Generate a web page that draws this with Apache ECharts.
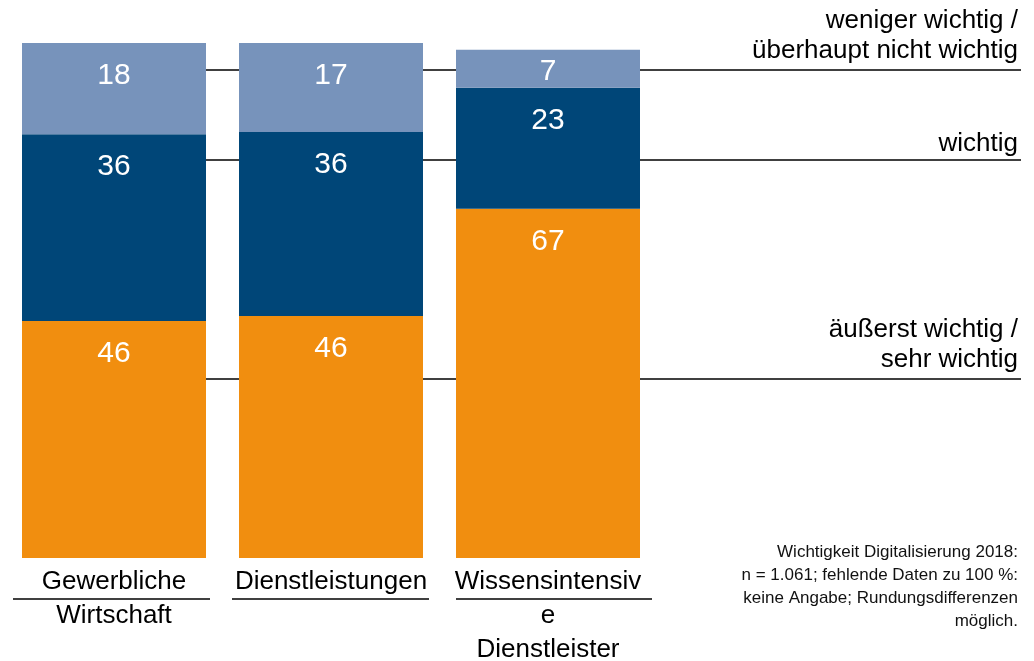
<!DOCTYPE html>
<html>
<head>
<meta charset="utf-8">
<script src="https://cdn.jsdelivr.net/npm/echarts@6/dist/echarts.min.js"></script>
<style>
  html, body { margin: 0; padding: 0; background: #fff; }
  #chart { width: 1034px; height: 661px; }
</style>
</head>
<body>
<div id="chart"></div>
<script>
// categories (line breaks as in the original)
const categories = ['Gewerbliche\nWirtschaft', 'Dienstleistungen', 'Wissensintensiv\ne\nDienstleister'];
const seriesNames = ['äußerst wichtig / sehr wichtig', 'wichtig', 'weniger wichtig / überhaupt nicht wichtig'];

// bar heights in %
const sehrWichtig = [46.0, 47.0, 67.8];
const wichtig = [36.3, 35.7, 23.5];
const wenigerWichtig = [17.7, 17.3, 7.4];

// numbers printed on the bars
const sehrWichtigLabels = [46, 46, 67];
const wichtigLabels = [36, 36, 23];
const wenigerWichtigLabels = [18, 17, 7];

const colors = ['#f18e0f', '#004678', '#7793bb'];
const font = '"Liberation Sans", Arial, sans-serif';

const chart = echarts.init(document.getElementById('chart'));

function makeSeries(name, values, labels, color) {
    return {
        name: name,
        type: 'bar',
        stack: 'total',
        barWidth: 184,
        z: 2,
        itemStyle: { color: color },
        label: {
            show: true,
            position: 'insideTop',
            distance: 18,
            color: '#fff',
            fontSize: 30,
            fontFamily: font,
            formatter: (p) => labels[p.dataIndex]
        },
        // small segments get their number centred
        data: values.map((v) => v < 10
            ? { value: v, label: { position: 'inside', offset: [0, 3] } }
            : v)
    };
}

const lineStyle = { stroke: '#000', lineWidth: 1.5 };
const hline = (x1, x2, y) => ({
    type: 'line', z: 0, silent: true,
    shape: { x1: x1, y1: y, x2: x2, y2: y }, style: lineStyle
});
// right aligned text block, every line ends at x = 1018
const rightText = (text, y, size, lh, fill) => ({
    type: 'text', z: 5, x: 1018, y: y,
    style: { text: text, align: 'right', verticalAlign: 'top', font: size + 'px ' + font, fill: fill, lineHeight: lh }
});

const option = {
    animation: false,
    grid: { left: 5.5, right: 377.5, top: 43, bottom: 103, outerBoundsMode: 'none' },
    xAxis: {
        type: 'category',
        data: categories,
        axisLine: { show: false },
        axisTick: { show: false },
        axisLabel: {
            interval: 0,
            margin: 7,
            color: '#000',
            fontSize: 26,
            lineHeight: 34,
            fontFamily: font
        }
    },
    yAxis: {
        type: 'value',
        min: 0,
        max: 100,
        show: false
    },
    series: [
        makeSeries(seriesNames[0], sehrWichtig, sehrWichtigLabels, colors[0]),
        makeSeries(seriesNames[1], wichtig, wichtigLabels, colors[1]),
        makeSeries(seriesNames[2], wenigerWichtig, wenigerWichtigLabels, colors[2])
    ],
    graphic: [
        // leader lines to the series names
        hline(206, 1021, 70),
        hline(206, 1021, 160),
        hline(206, 1021, 379),
        // lines under the first line of the category labels
        hline(13, 210, 599),
        hline(232, 429, 599),
        hline(456, 652, 599),
        rightText('weniger wichtig /\nüberhaupt nicht wichtig', 6, 26, 30, '#000'),
        rightText('wichtig', 129, 26, 30, '#000'),
        rightText('äußerst wichtig /\nsehr wichtig', 315, 26, 30, '#000'),
        rightText('Wichtigkeit Digitalisierung 2018:\nn = 1.061; fehlende Daten zu 100 %:\nkeine Angabe; Rundungsdifferenzen\nmöglich.', 541, 17, 23, '#111')
    ]
};

option && chart.setOption(option);
</script>
</body>
</html>
